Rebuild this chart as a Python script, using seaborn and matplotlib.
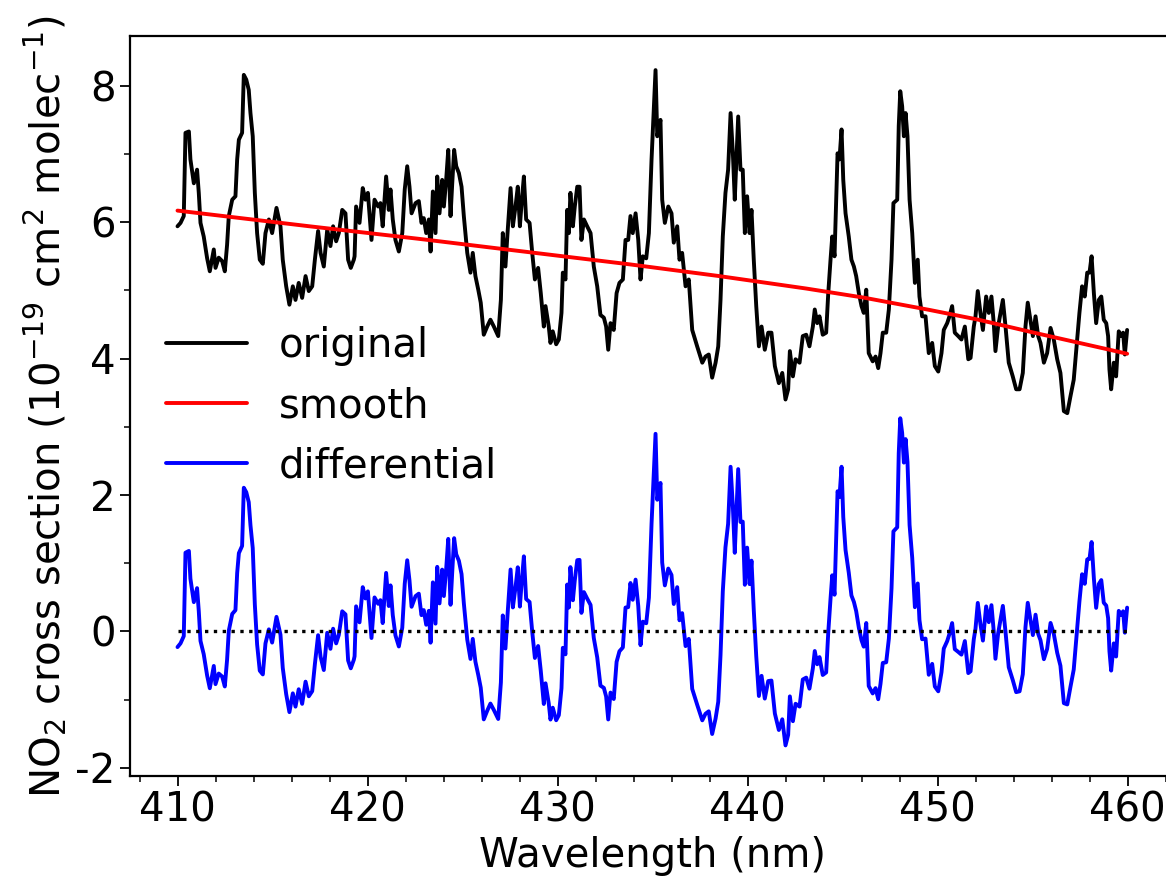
import numpy as np
import matplotlib
matplotlib.use('Agg')
import matplotlib.pyplot as plt
import seaborn as sns
from matplotlib.ticker import MultipleLocator

# wavelength grid (nm) and original NO2 cross section (1e-19 cm2/molec)
wavelength = [
    410.00, 410.16, 410.33, 410.42, 410.60, 410.68, 410.86, 411.03, 411.12, 411.21,
    411.38, 411.56, 411.70, 411.91, 412.00, 412.17, 412.35, 412.49, 412.61, 412.70,
    412.88, 413.05, 413.14, 413.23, 413.40, 413.49, 413.62, 413.75, 413.84, 413.96,
    414.07, 414.19, 414.33, 414.49, 414.63, 414.81, 414.98, 415.21, 415.42, 415.54,
    415.72, 415.89, 416.07, 416.21, 416.38, 416.56, 416.74, 416.91, 417.09, 417.23,
    417.40, 417.53, 417.70, 417.88, 418.05, 418.19, 418.35, 418.49, 418.67, 418.84,
    418.98, 419.12, 419.28, 419.32, 419.40, 419.58, 419.75, 419.89, 420.02, 420.21,
    420.37, 420.56, 420.68, 420.80, 420.98, 421.12, 421.21, 421.33, 421.47, 421.65,
    421.83, 421.96, 422.09, 422.21, 422.32, 422.53, 422.70, 422.84, 422.96, 423.09,
    423.23, 423.32, 423.44, 423.58, 423.67, 423.79, 423.93, 424.02, 424.14, 424.25,
    424.37, 424.46, 424.56, 424.67, 424.81, 424.95, 425.07, 425.25, 425.42, 425.54,
    425.68, 425.83, 425.96, 426.12, 426.30, 426.47, 426.65, 426.88, 427.02, 427.12,
    427.26, 427.37, 427.53, 427.65, 427.79, 427.91, 428.02, 428.11, 428.23, 428.35,
    428.53, 428.67, 428.81, 428.98, 429.12, 429.28, 429.37, 429.54, 429.63, 429.75,
    429.93, 430.07, 430.21, 430.28, 430.42, 430.51, 430.60, 430.68, 430.81, 430.91,
    431.04, 431.16, 431.26, 431.39, 431.56, 431.74, 431.91, 432.09, 432.26, 432.44,
    432.56, 432.67, 432.79, 432.96, 433.11, 433.26, 433.44, 433.58, 433.72, 433.84,
    433.96, 434.11, 434.25, 434.37, 434.49, 434.67, 434.81, 434.95, 435.02, 435.16,
    435.25, 435.42, 435.51, 435.65, 435.83, 436.00, 436.12, 436.30, 436.42, 436.56,
    436.74, 436.91, 437.09, 437.35, 437.62, 437.79, 437.96, 438.14, 438.32, 438.46,
    438.58, 438.70, 438.84, 438.98, 439.11, 439.23, 439.33, 439.51, 439.63, 439.75,
    439.86, 439.98, 440.11, 440.21, 440.33, 440.46, 440.60, 440.74, 440.91, 441.09,
    441.26, 441.44, 441.65, 441.83, 442.00, 442.14, 442.23, 442.39, 442.53, 442.74,
    442.91, 443.09, 443.26, 443.44, 443.54, 443.67, 443.79, 443.96, 444.14, 444.25,
    444.37, 444.46, 444.58, 444.67, 444.74, 444.84, 444.95, 445.04, 445.16, 445.33,
    445.47, 445.60, 445.72, 445.86, 446.00, 446.12, 446.25, 446.38, 446.59, 446.74,
    446.88, 447.00, 447.12, 447.30, 447.44, 447.58, 447.68, 447.88, 447.96, 448.04,
    448.14, 448.23, 448.32, 448.42, 448.53, 448.67, 448.81, 448.96, 449.05, 449.19,
    449.37, 449.54, 449.72, 449.86, 450.04, 450.21, 450.33, 450.51, 450.63, 450.77,
    450.91, 451.09, 451.26, 451.44, 451.62, 451.74, 451.91, 452.00, 452.12, 452.26,
    452.39, 452.56, 452.70, 452.84, 452.96, 453.05, 453.19, 453.32, 453.44, 453.58,
    453.75, 453.96, 454.14, 454.32, 454.49, 454.63, 454.75, 454.89, 455.02, 455.16,
    455.30, 455.42, 455.60, 455.77, 455.95, 456.12, 456.30, 456.47, 456.65, 456.83,
    457.00, 457.17, 457.35, 457.47, 457.61, 457.75, 457.88, 458.00, 458.11, 458.23,
    458.35, 458.49, 458.62, 458.75, 458.88, 458.98, 459.05, 459.14, 459.28, 459.40,
    459.54, 459.68, 459.77, 459.86, 459.98,
]
original = [
    5.94, 5.99, 6.09, 7.31, 7.33, 6.92, 6.57, 6.77, 6.43, 5.99,
    5.79, 5.47, 5.28, 5.60, 5.33, 5.48, 5.43, 5.28, 5.67, 6.09,
    6.33, 6.38, 6.92, 7.21, 7.31, 8.16, 8.09, 7.94, 7.60, 7.26,
    6.43, 5.84, 5.45, 5.39, 5.84, 6.04, 5.84, 6.21, 5.94, 5.45,
    5.06, 4.79, 5.06, 4.86, 5.11, 4.89, 5.21, 4.99, 5.06, 5.45,
    5.87, 5.55, 5.35, 5.89, 5.65, 5.94, 5.72, 5.84, 6.18, 6.13,
    5.45, 5.33, 5.45, 5.50, 6.23, 5.99, 6.50, 6.33, 6.43, 5.74,
    6.33, 6.23, 6.28, 5.94, 6.67, 6.18, 6.48, 6.04, 5.74, 5.57,
    5.84, 6.48, 6.82, 6.52, 6.13, 6.28, 6.31, 5.99, 6.06, 5.84,
    6.04, 5.57, 6.45, 5.84, 6.67, 6.13, 6.62, 6.23, 6.62, 7.06,
    6.09, 6.57, 7.06, 6.82, 6.72, 6.52, 6.09, 5.55, 5.26, 5.55,
    5.21, 5.01, 4.82, 4.35, 4.47, 4.57, 4.47, 4.33, 4.86, 5.84,
    5.35, 5.84, 6.50, 5.94, 6.23, 6.52, 5.94, 6.28, 6.67, 6.04,
    5.99, 5.55, 5.16, 5.33, 4.96, 4.47, 4.77, 4.47, 4.23, 4.40,
    4.21, 4.28, 4.67, 5.26, 5.16, 6.18, 5.84, 6.43, 5.94, 6.23,
    6.52, 6.52, 5.74, 6.04, 5.94, 5.84, 5.35, 5.06, 4.64, 4.60,
    4.47, 4.13, 4.52, 4.42, 4.96, 5.11, 5.16, 5.74, 5.74, 6.09,
    5.84, 6.13, 5.74, 5.16, 5.50, 5.47, 5.84, 6.92, 7.36, 8.23,
    7.26, 7.50, 6.33, 5.99, 6.23, 6.13, 5.70, 5.94, 5.45, 5.55,
    5.06, 5.16, 4.42, 4.18, 3.94, 4.03, 4.06, 3.72, 3.94, 4.18,
    4.86, 5.79, 6.43, 6.77, 7.60, 7.01, 6.33, 7.55, 6.77, 6.77,
    5.84, 6.38, 5.84, 6.18, 5.45, 4.77, 4.18, 4.47, 4.13, 4.38,
    4.38, 3.89, 3.64, 3.79, 3.40, 3.55, 4.11, 3.74, 3.99, 3.94,
    4.33, 4.35, 4.18, 4.47, 4.72, 4.52, 4.62, 4.35, 4.38, 4.96,
    5.45, 5.79, 5.50, 6.33, 7.01, 6.92, 7.36, 6.62, 6.13, 5.79,
    5.45, 5.35, 5.21, 4.96, 4.77, 4.67, 5.01, 4.08, 3.96, 4.03,
    3.86, 4.08, 4.38, 4.38, 4.72, 5.45, 6.28, 6.33, 7.41, 7.92,
    7.70, 7.26, 7.60, 7.26, 6.33, 5.84, 5.11, 5.45, 4.91, 4.62,
    4.62, 4.08, 4.23, 3.89, 3.81, 4.08, 4.42, 4.52, 4.62, 4.77,
    4.38, 4.33, 4.28, 4.47, 3.99, 4.01, 4.47, 4.62, 4.99, 4.67,
    4.42, 4.91, 4.67, 4.91, 4.52, 4.11, 4.47, 4.67, 4.86, 4.47,
    3.94, 3.74, 3.55, 3.55, 3.79, 4.47, 4.82, 4.57, 4.33, 4.62,
    4.33, 4.23, 3.94, 4.08, 4.45, 4.28, 3.99, 3.79, 3.23, 3.20,
    3.45, 3.69, 4.28, 4.67, 5.06, 4.91, 5.26, 5.26, 5.50, 4.96,
    4.52, 4.86, 4.91, 4.57, 4.52, 4.33, 3.84, 3.55, 3.94, 3.74,
    4.40, 4.33, 4.38, 4.06, 4.42,
]

# smooth (broadband) part, read at a few wavelengths
smooth_wl = [410.0, 416.0, 422.0, 427.0, 433.3, 438.0, 442.8, 446.0, 449.1, 452.0, 454.6, 457.0, 460.0]
smooth_val = [6.17, 5.97, 5.78, 5.61, 5.40, 5.23, 5.04, 4.90, 4.74, 4.58, 4.41, 4.26, 4.07]

wl = np.array(wavelength)
orig = np.array(original)
smooth = np.interp(wl, smooth_wl, smooth_val)
differential = orig - smooth

sns.set_style('ticks')
plt.rcParams['font.family'] = ['DejaVu Sans']
plt.rcParams['axes.unicode_minus'] = False
plt.rcParams['text.color'] = 'black'
plt.rcParams['axes.labelcolor'] = 'black'
plt.rcParams['xtick.color'] = 'black'
plt.rcParams['ytick.color'] = 'black'
plt.rcParams['axes.edgecolor'] = 'black'
fs = 29

fig = plt.figure(figsize=(11.66, 8.88), dpi=100)
ax = fig.add_axes([130 / 1166, 112 / 888, 1045 / 1166, 740 / 888])

sns.lineplot(x=wl, y=orig, color='black', lw=2.8, label='original', ax=ax, sort=False, estimator=None)
sns.lineplot(x=wl, y=smooth, color='red', lw=2.8, label='smooth', ax=ax, sort=False, estimator=None)
sns.lineplot(x=wl, y=differential, color='blue', lw=2.8, label='differential', ax=ax, sort=False, estimator=None)
ax.hlines(0, wl[0], wl[-1], colors='black', linestyles=':', lw=2.4)

ax.set_xlim(407.5, 462.5)
ax.set_ylim(-2.12, 8.73)
ax.xaxis.set_major_locator(MultipleLocator(10))
ax.xaxis.set_minor_locator(MultipleLocator(2))
ax.yaxis.set_major_locator(MultipleLocator(2))
ax.yaxis.set_minor_locator(MultipleLocator(1))
ax.tick_params(which='major', length=7, width=1.3, labelsize=fs, color='black', labelcolor='black')
ax.tick_params(which='minor', length=4, width=1.1, color='black')
for s in ax.spines.values():
    s.set_linewidth(1.6)
    s.set_color('black')

ax.set_xlabel('Wavelength (nm)', fontsize=fs, color='black')
ax.set_ylabel('NO$_2$ cross section (10$^{-19}$ cm$^2$ molec$^{-1}$)', fontsize=fs, color='black')
leg = ax.legend(loc='center left', frameon=False, fontsize=fs)
for t in leg.get_texts():
    t.set_color('black')

fig.savefig('out.png', dpi=100)
